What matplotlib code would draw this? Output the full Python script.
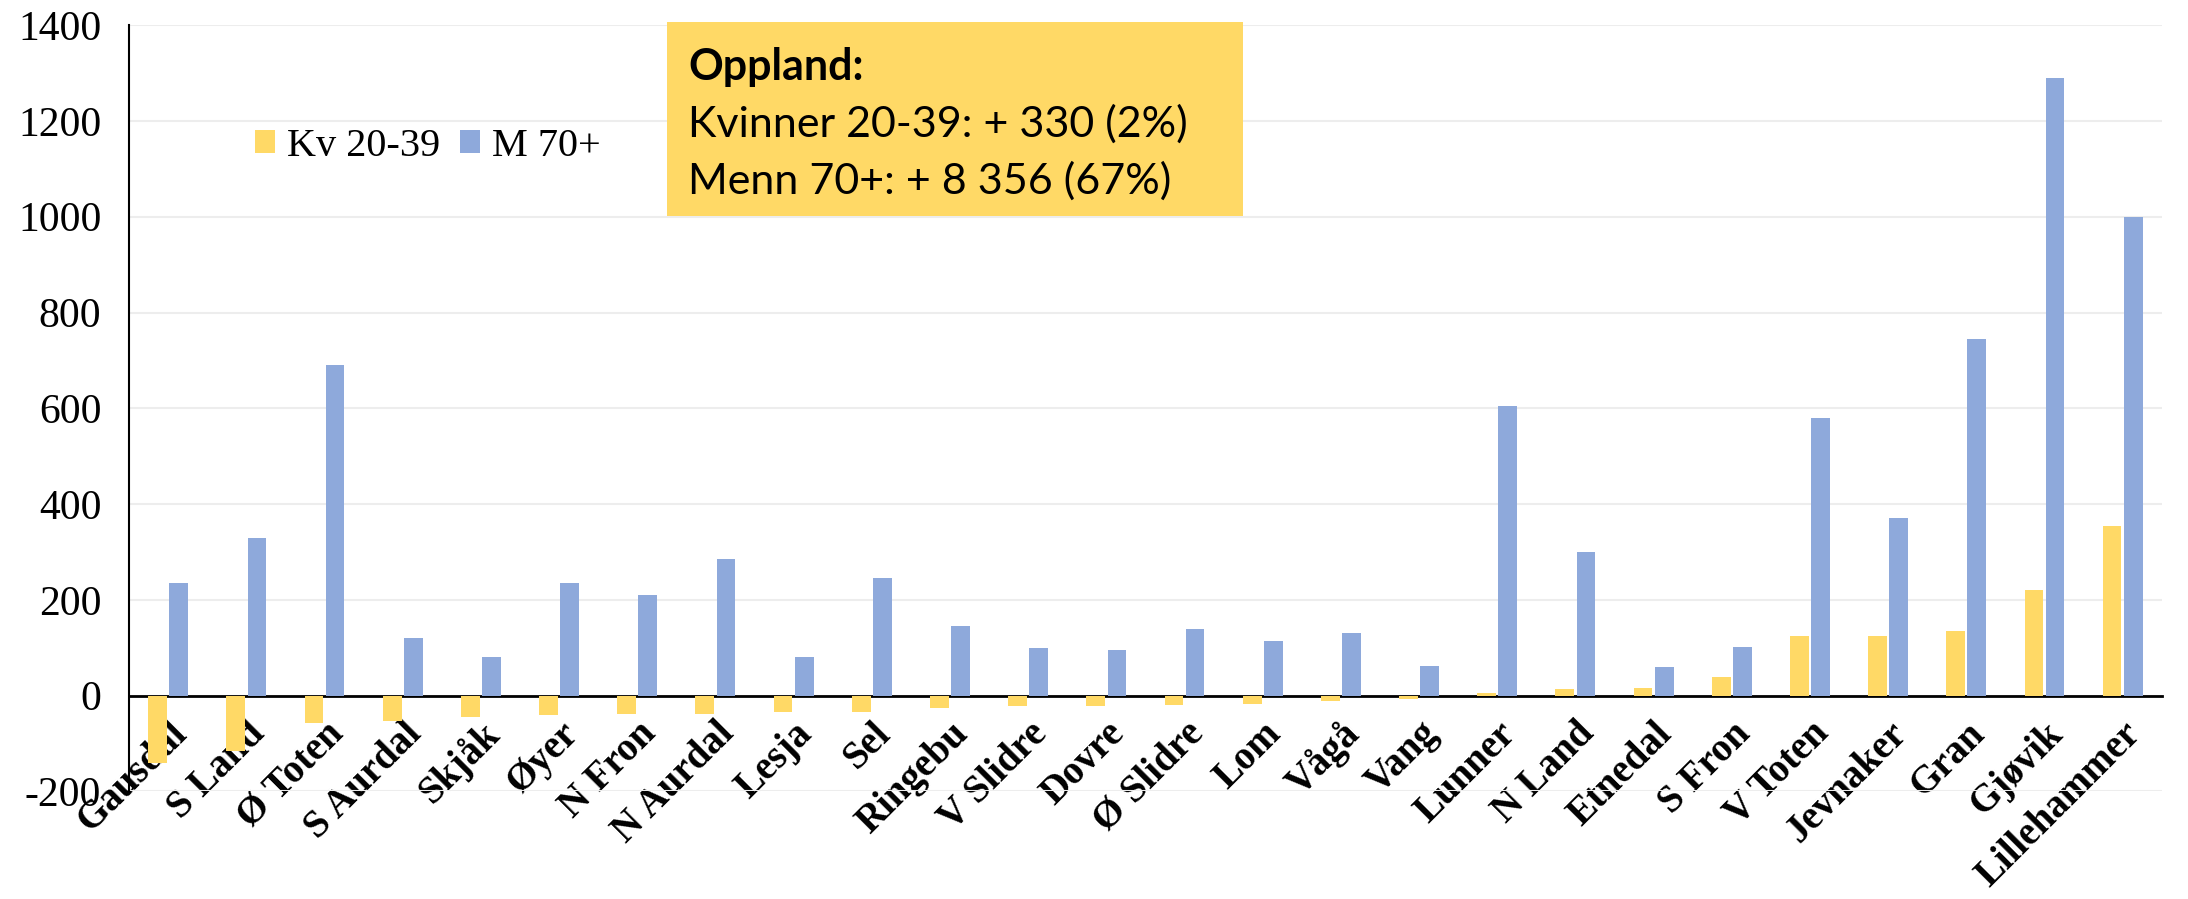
import matplotlib
matplotlib.use("Agg")
import matplotlib.pyplot as plt
from matplotlib.patches import Rectangle
import numpy as np

kommuner = ["Gausdal", "S Land", "Ø Toten", "S Aurdal", "Skjåk", "Øyer", "N Fron",
            "N Aurdal", "Lesja", "Sel", "Ringebu", "V Slidre", "Dovre", "Ø Slidre",
            "Lom", "Vågå", "Vang", "Lunner", "N Land", "Etnedal", "S Fron", "V Toten",
            "Jevnaker", "Gran", "Gjøvik", "Lillehammer"]
kv_20_39 = [-140, -115, -58, -53, -44, -40, -39, -39, -34, -34, -26, -22, -21, -19,
            -17, -12, -7, 6, 13, 17, 38, 124, 124, 136, 220, 355]
m_70 = [235, 330, 690, 120, 80, 235, 210, 285, 80, 245, 145, 100, 95, 140,
        115, 130, 62, 605, 300, 60, 102, 580, 370, 745, 1290, 1000]
yticks = [-200, 0, 200, 400, 600, 800, 1000, 1200, 1400]

YELLOW = "#FFD966"
BLUE = "#8EA9DB"
serif = ["Liberation Serif", "DejaVu Serif"]

fig = plt.figure(figsize=(21.88, 8.99), dpi=100)
ax = fig.add_axes([0.059, 0.1196, 0.929, 0.8524])

x = np.arange(len(kommuner))
w = 0.24
ax.bar(x - 0.135, kv_20_39, w, color=YELLOW, label="Kv 20-39", zorder=3)
ax.bar(x + 0.135, m_70, w, color=BLUE, label="M 70+", zorder=3)

ax.set_xlim(-0.5, len(kommuner) - 0.5)
ax.set_ylim(-200, 1400)
ax.set_yticks(yticks)
ax.set_yticklabels([str(t) for t in yticks], fontfamily=serif, fontsize=30)
ax.yaxis.grid(True, color="#EDEDED", linewidth=1.5, zorder=0)
ax.set_axisbelow(True)

ax.spines["top"].set_visible(False)
ax.spines["right"].set_visible(False)
ax.spines["bottom"].set_position(("data", 0))
ax.spines["bottom"].set_linewidth(2)
ax.spines["left"].set_linewidth(1.5)
ax.tick_params(axis="y", length=0, pad=20)
ax.tick_params(axis="x", length=0, pad=14)

ax.set_xticks(x)
ax.set_xticklabels(kommuner, rotation=45, ha="right", rotation_mode="anchor",
                   fontfamily=serif, fontsize=28, fontweight="bold")
for lab in ax.get_xticklabels():
    lab.set_zorder(5)

leg = ax.legend(loc="center", bbox_to_anchor=(0.1955, 0.837), bbox_transform=fig.transFigure,
                ncol=2, frameon=False, prop={"family": serif, "size": 29},
                handlelength=0.5, handleheight=0.5, handletextpad=0.3, columnspacing=0.5)

# summary box
fig.patches.append(Rectangle((0.305, 0.760), 0.263, 0.2155, transform=fig.transFigure,
                             facecolor=YELLOW, edgecolor="none", zorder=10))
box_font = ["Lato", "DejaVu Sans"]
fig.text(0.3144, 0.911, "Oppland:", fontfamily=box_font, fontsize=31, fontweight="bold", zorder=11)
fig.text(0.3144, 0.848, "Kvinner 20-39: + 330 (2%)", fontfamily=box_font, fontsize=31, zorder=11)
fig.text(0.3144, 0.785, "Menn 70+: + 8 356 (67%)", fontfamily=box_font, fontsize=31, zorder=11)

fig.savefig("out.png", dpi=100)
